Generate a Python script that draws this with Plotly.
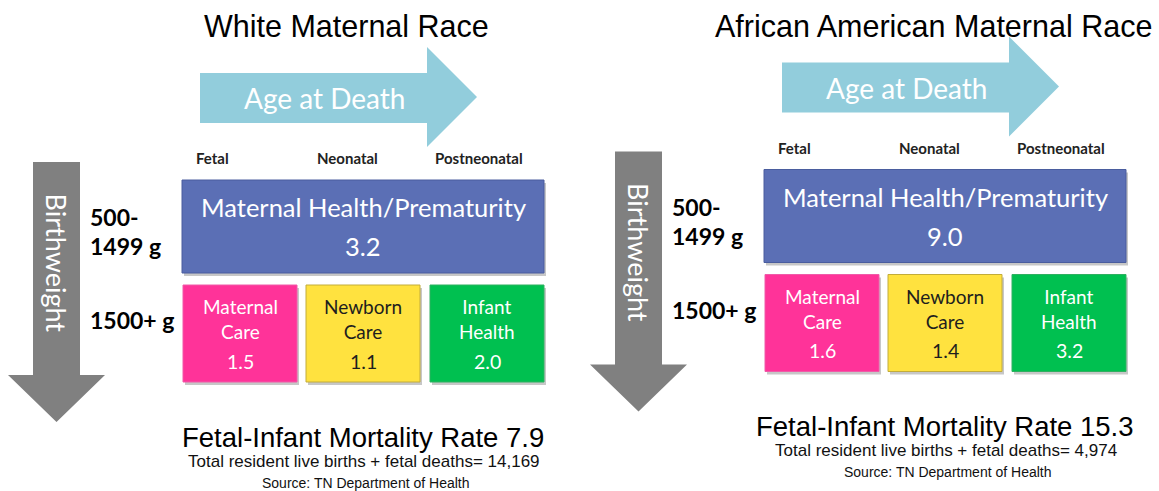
import plotly.graph_objects as go

# ---------------- data ----------------
panel_titles = ["White Maternal Race", "African American Maternal Race"]
age_categories = ["Fetal", "Neonatal", "Postneonatal"]
weight_categories = ["500-", "1499 g", "1500+ g"]
age_arrow_label = "Age at Death"
weight_arrow_label = "Birthweight"
vlbw_cause = "Maternal Health/Prematurity"
vlbw_rates = [3.2, 9.0]
small_causes = ["Maternal<br>Care", "Newborn<br>Care", "Infant<br>Health"]
white_rates = [1.5, 1.1, 2.0]
black_rates = [1.6, 1.4, 3.2]
small_rates = [white_rates, black_rates]
overall_rates = [7.9, 15.3]
total_births = ["14,169", "4,974"]
source_text = "Source: TN Department of Health"

# ---------------- style ----------------
W, H = 1159, 491
BLUE = "#5B6FB5"
BLUE_LINE = "#4A5D9E"
SMALL_FILL = ["#FF3399", "#FFE23F", "#00C050"]
SMALL_LINE = ["#F05AA8", "#C2AC3A", "#2FB060"]
SMALL_TEXT = ["white", "#1E1E1E", "white"]
ARROW_BLUE = "#92CDDC"
ARROW_GRAY = "#808080"
CAL = "Lato, 'Open Sans', sans-serif"
ARI = "'Liberation Sans', Arial, sans-serif"

fig = go.Figure()
fig.add_trace(go.Scatter(x=[0, W], y=[0, H], mode="markers",
                         marker=dict(opacity=0), hoverinfo="skip", showlegend=False))

shapes = []
ann = []

def A(x, y, text, size, color="black", family=CAL, weight="normal", **kw):
    ann.append(dict(x=x, y=y, xref="x", yref="y", text=text, showarrow=False,
                    font=dict(size=size, color=color, family=family, weight=weight),
                    **kw))

def rect(x0, y0, x1, y1, fill, line, shadow=True):
    if shadow:
        shapes.append(dict(type="rect", xref="x", yref="y", x0=x0 + 2, y0=y0 + 3,
                           x1=x1 + 2, y1=y1 + 3, fillcolor="rgba(0,0,0,0.22)",
                           line=dict(width=0), layer="below"))
    shapes.append(dict(type="rect", xref="x", yref="y", x0=x0, y0=y0, x1=x1, y1=y1,
                       fillcolor=fill, line=dict(color=line, width=1), layer="below"))

def path(pts, fill):
    d = "M " + " L ".join(f"{px},{py}" for px, py in pts) + " Z"
    shapes.append(dict(type="path", xref="x", yref="y", path=d, fillcolor=fill,
                       line=dict(width=0), layer="below"))

title_x = [346, 933]
for p in range(2):
    dx = 582 * p
    dy = -10.5 * p
    # title
    A(title_x[p], 26, panel_titles[p], 30.5, family=ARI)
    # age at death arrow
    path([(200 + dx, 73 + dy), (427 + dx, 73 + dy), (427 + dx, 47 + dy),
          (477 + dx, 97 + dy), (427 + dx, 147 + dy), (427 + dx, 123 + dy),
          (200 + dx, 123 + dy)], ARROW_BLUE)
    A(324 + dx, 98 + dy, age_arrow_label, 28, color="white")
    # column labels
    for cx, lab in zip([212, 347, 479], age_categories):
        A(cx + dx, 158 + dy, lab, 15, color="#222222", weight="bold")
    # birthweight arrow
    path([(33 + dx, 162 + dy), (80 + dx, 162 + dy), (80 + dx, 375 + dy),
          (105 + dx, 375 + dy), (56.5 + dx, 422 + dy), (8 + dx, 375 + dy),
          (33 + dx, 375 + dy)], ARROW_GRAY)
    A(56.5 + dx, 263 + dy, weight_arrow_label, 27, color="white", textangle=90)
    # weight labels
    for ly, lab in zip([217, 246, 320], weight_categories):
        A(88 + dx, ly + dy, lab, 23, color="black", weight="bold", xanchor="left")
    # big box
    rect(182 + dx, 180 + dy, 544 + dx, 273 + dy, BLUE, BLUE_LINE)
    A(363 + dx, 207 + dy, vlbw_cause, 25.5, color="white")
    A(363 + dx, 246 + dy, f"{vlbw_rates[p]:.1f}", 25.5, color="white")
    # small boxes
    bx = [(183, 297), (306, 420), (430, 544)]
    for i, (x0, x1) in enumerate(bx):
        rect(x0 + dx, 285 + dy, x1 + dx, 382 + dy, SMALL_FILL[i], SMALL_LINE[i])
        cx = (x0 + x1) / 2 + dx
        A(cx, 319 + dy, small_causes[i], 19, color=SMALL_TEXT[i])
        A(cx, 361 + dy, f"{small_rates[p][i]:.1f}", 19.5, color=SMALL_TEXT[i])
    # bottom text
    A(363 + dx, 437 + dy, f"Fetal-Infant Mortality Rate {overall_rates[p]}", 27.5, family=ARI)
    A(364 + dx, 461 + dy, f"Total resident live births + fetal deaths= {total_births[p]}",
      17, family=ARI, color="#111111")
    A(366 + dx, 482.5 + dy, source_text, 14, family=ARI, color="#111111")

fig.update_layout(
    width=W, height=H, autosize=False,
    margin=dict(l=0, r=0, t=0, b=0, pad=0),
    paper_bgcolor="white", plot_bgcolor="white",
    xaxis=dict(range=[0, W], visible=False, fixedrange=True),
    yaxis=dict(range=[H, 0], visible=False, fixedrange=True),
    shapes=shapes, annotations=ann, showlegend=False,
)

fig.write_html("out.html", config={"displayModeBar": False},
               post_script="document.body.style.margin='0';")
